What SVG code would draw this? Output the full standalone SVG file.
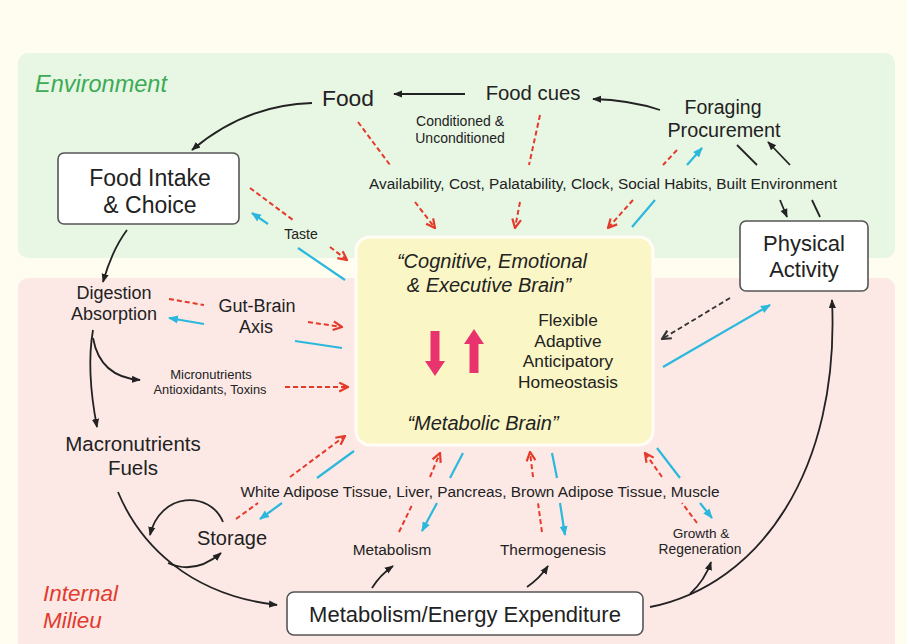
<svg xmlns="http://www.w3.org/2000/svg" width="907" height="644" viewBox="0 0 907 644">
<defs>
<style>
text{font-family:"Liberation Sans",Arial,sans-serif;fill:#222;}
.c{text-anchor:middle;}
.it{font-style:italic;}
.box{fill:#fff;stroke:#555;stroke-width:1.6;}
.blk{fill:none;stroke:#222;stroke-width:1.8;}
.red{fill:none;stroke:#e53a2a;stroke-width:2;stroke-dasharray:5,3;}
.cy{fill:none;stroke:#2bb8dc;stroke-width:2.2;}
.bd{fill:none;stroke:#333;stroke-width:1.8;stroke-dasharray:5,3;}
</style>
<marker id="ab" viewBox="0 0 10 10" refX="9" refY="5" markerWidth="9" markerHeight="9" markerUnits="userSpaceOnUse" orient="auto"><path d="M0,1 L10,5 L0,9 z" fill="#222"/></marker>
<marker id="ar" viewBox="0 0 10 10" refX="9" refY="5" markerWidth="11" markerHeight="11" markerUnits="userSpaceOnUse" orient="auto"><path d="M1,1 L9,5 L1,9" fill="none" stroke="#e53a2a" stroke-width="2"/></marker>
<marker id="ac" viewBox="0 0 10 10" refX="9" refY="5" markerWidth="10" markerHeight="10" markerUnits="userSpaceOnUse" orient="auto"><path d="M0,1 L10,5 L0,9 z" fill="#2bb8dc"/></marker>
<marker id="ad" viewBox="0 0 10 10" refX="9" refY="5" markerWidth="11" markerHeight="11" markerUnits="userSpaceOnUse" orient="auto"><path d="M1,1 L9,5 L1,9" fill="none" stroke="#333" stroke-width="2"/></marker>
</defs>
<rect x="0" y="0" width="907" height="644" fill="#fffcf0"/>
<g id="panels">
<rect x="18" y="53" width="877" height="205" rx="10" fill="#e8f6e4"/>
<rect x="18" y="278" width="877" height="380" rx="10" fill="#fce9e6"/>
<text x="35" y="92" class="it" font-size="23.5" style="fill:#3cab55">Environment</text>
<text x="43" y="601" class="it" font-size="22.5" style="fill:#e23b2e">Internal</text>
<text x="43" y="628" class="it" font-size="22.5" style="fill:#e23b2e">Milieu</text>
</g>
<g id="brain">
<rect x="356" y="237" width="297" height="208" rx="14" fill="#fbf6c5" stroke="#fffdf5" stroke-width="3"/>
<text x="492" y="268" class="c it" font-size="20">“Cognitive, Emotional</text>
<text x="489" y="292" class="c it" font-size="20">&amp; Executive Brain”</text>
<text x="483" y="430" class="c it" font-size="20">“Metabolic Brain”</text>
<text x="568" y="326" class="c" font-size="17.3">Flexible</text>
<text x="568" y="346.5" class="c" font-size="17.3">Adaptive</text>
<text x="568" y="367" class="c" font-size="17.3">Anticipatory</text>
<text x="568" y="387.5" class="c" font-size="17.3">Homeostasis</text>
<polygon points="430.5,331 439.5,331 439.5,361 445,361 435,376 425,361 430.5,361" fill="#e8336f"/>
<polygon points="474,329 484,344 478.5,344 478.5,373 469.5,373 469.5,344 464,344" fill="#e8336f"/>
</g>
<g id="food"><text x="348" y="106" class="c" font-size="22.8">Food</text></g>
<g id="foodcues"><text x="533" y="100" class="c" font-size="20.3">Food cues</text></g>
<g id="foraging">
<text x="723" y="114" class="c" font-size="19.5">Foraging</text>
<text x="724" y="136.5" class="c" font-size="19.8">Procurement</text>
</g>
<g id="conditioned">
<text x="460" y="126" class="c" font-size="14">Conditioned &amp;</text>
<text x="460" y="143" class="c" font-size="14">Unconditioned</text>
</g>
<g id="availability"><text x="603" y="189" class="c" font-size="15.4">Availability, Cost, Palatability, Clock, Social Habits, Built Environment</text></g>
<g id="foodintake">
<rect x="58" y="153" width="181" height="71" rx="6" class="box"/>
<text x="150" y="186" class="c" font-size="23">Food Intake</text>
<text x="150" y="213" class="c" font-size="23">&amp; Choice</text>
</g>
<g id="taste"><text x="301" y="239" class="c" font-size="14">Taste</text></g>
<g id="physical">
<rect x="740" y="221" width="128" height="70" rx="6" class="box"/>
<text x="804" y="251" class="c" font-size="22">Physical</text>
<text x="804" y="276.5" class="c" font-size="22">Activity</text>
</g>
<g id="digestion">
<text x="114" y="299" class="c" font-size="18">Digestion</text>
<text x="114" y="320" class="c" font-size="18">Absorption</text>
</g>
<g id="gutbrain">
<text x="257" y="312" class="c" font-size="18">Gut-Brain</text>
<text x="256" y="333" class="c" font-size="18">Axis</text>
</g>
<g id="micronutrients">
<text x="211" y="378.5" class="c" font-size="13">Micronutrients</text>
<text x="210" y="393.5" class="c" font-size="12.8">Antioxidants, Toxins</text>
</g>
<g id="macronutrients">
<text x="133" y="451" class="c" font-size="20.5">Macronutrients</text>
<text x="133" y="475" class="c" font-size="20.5">Fuels</text>
</g>
<g id="tissues"><text x="480" y="497" class="c" font-size="15.4">White Adipose Tissue, Liver, Pancreas, Brown Adipose Tissue, Muscle</text></g>
<g id="storage"><text x="232" y="545" class="c" font-size="20">Storage</text></g>
<g id="metabolism"><text x="392" y="555" class="c" font-size="15.4">Metabolism</text></g>
<g id="thermogenesis"><text x="553" y="555" class="c" font-size="15.4">Thermogenesis</text></g>
<g id="growth">
<text x="701" y="537.5" class="c" font-size="13.6">Growth &amp;</text>
<text x="700" y="553.5" class="c" font-size="13.8">Regeneration</text>
</g>
<g id="energy">
<rect x="287" y="592" width="356" height="43" rx="7" class="box"/>
<text x="465" y="622" class="c" font-size="22">Metabolism/Energy Expenditure</text>
</g>
<g id="connectors">
<path d="M465,94 L394,94" class="blk" marker-end="url(#ab)"/>
<path d="M660,110 Q630,100 593,99" class="blk" marker-end="url(#ab)"/>
<path d="M312,103 Q245,105 192,150" class="blk" marker-end="url(#ab)"/>
<path d="M127,230 Q112,250 103,282" class="blk" marker-end="url(#ab)"/>
<path d="M737,145 L757,165" class="blk"/>
<path d="M780,200 L787,217" class="blk" marker-end="url(#ab)"/>
<path d="M820,217 L812,200" class="blk"/>
<path d="M790,165 L768,142" class="blk" marker-end="url(#ab)"/>
<path d="M358,122 L390,165" class="red"/>
<path d="M415,202 L435,228" class="red" marker-end="url(#ar)"/>
<path d="M540,115 L529,165" class="red"/>
<path d="M520,202 L515,228" class="red" marker-end="url(#ar)"/>
<path d="M677,150 L663,165" class="red"/>
<path d="M633,200 L608,228" class="red" marker-end="url(#ar)"/>
<path d="M632,227 L655,200" class="cy"/>
<path d="M687,165 L702,148" class="cy" marker-end="url(#ac)"/>
<path d="M250,188 L293,220" class="red"/>
<path d="M330,247 L347,260" class="red" marker-end="url(#ar)"/>
<path d="M345,280 L298,248" class="cy"/>
<path d="M268,224 L252,213" class="cy" marker-end="url(#ac)"/>
<path d="M169,299 L204,305" class="red"/>
<path d="M308,322 L342,327" class="red" marker-end="url(#ar)"/>
<path d="M342,348 L295,341" class="cy"/>
<path d="M204,324 L169,318" class="cy" marker-end="url(#ac)"/>
<path d="M285,387 L348,387" class="red" marker-end="url(#ar)"/>
<path d="M93,338 Q100,377 140,380" class="blk" marker-end="url(#ab)"/>
<path d="M93,330 Q86,370 97,427" class="blk" marker-end="url(#ab)"/>
<path d="M290,477 L345,436" class="red" marker-end="url(#ar)"/>
<path d="M354,451 L317,478" class="cy"/>
<path d="M236,519 L258,503" class="red"/>
<path d="M282,503 L260,519" class="cy" marker-end="url(#ac)"/>
<path d="M430,477 L440,453" class="red" marker-end="url(#ar)"/>
<path d="M463,453 L450,478" class="cy"/>
<path d="M399,532 L413,503" class="red"/>
<path d="M437,503 L422,531" class="cy" marker-end="url(#ac)"/>
<path d="M533,477 L530,452" class="red" marker-end="url(#ar)"/>
<path d="M552,453 L557,478" class="cy"/>
<path d="M542,532 L538,503" class="red"/>
<path d="M560,503 L565,535" class="cy" marker-end="url(#ac)"/>
<path d="M662,477 L645,453" class="red" marker-end="url(#ar)"/>
<path d="M657,448 L680,478" class="cy"/>
<path d="M697,523 L682,503" class="red"/>
<path d="M700,503 L712,518" class="cy" marker-end="url(#ac)"/>
<path d="M223,522 C210,490 160,492 150,535" class="blk" marker-end="url(#ab)"/>
<path d="M168,563 Q195,575 221,553" class="blk" marker-end="url(#ab)"/>
<path d="M118,492 C140,545 190,595 277,605" class="blk" marker-end="url(#ab)"/>
<path d="M372,588 Q380,575 393,566" class="blk" marker-end="url(#ab)"/>
<path d="M527,587 Q540,578 548,566" class="blk" marker-end="url(#ab)"/>
<path d="M650,607 C760,585 840,470 832,300" class="blk" marker-end="url(#ab)"/>
<path d="M690,594 Q705,580 711,562" class="blk" marker-end="url(#ab)"/>
<path d="M730,298 L662,339" class="bd" marker-end="url(#ad)"/>
<path d="M663,367 L770,305" class="cy" marker-end="url(#ac)"/>
</g>
</svg>
